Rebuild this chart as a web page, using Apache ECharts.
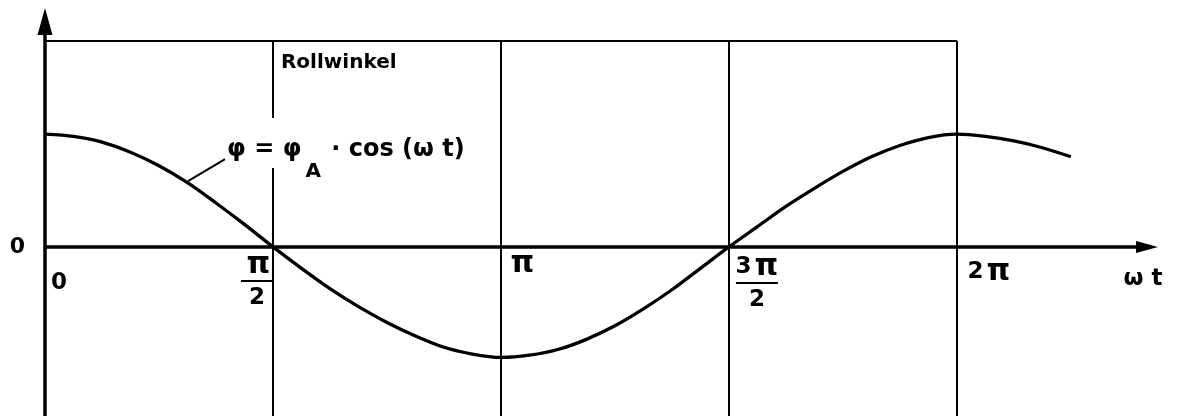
<!DOCTYPE html>
<html>
<head>
<meta charset="utf-8">
<script src="https://cdn.jsdelivr.net/npm/echarts@6/dist/echarts.min.js"></script>
<style>
  html, body { margin: 0; padding: 0; background: #fff; }
  #chart { width: 1179px; height: 416px; }
</style>
</head>
<body>
<div id="chart"></div>
<script>
// x in multiples of π (step π/16), y in units of the amplitude φA
const curveX = [0, 0.0625, 0.125, 0.1875, 0.25, 0.3125, 0.375, 0.4375, 0.5,
    0.5625, 0.625, 0.6875, 0.75, 0.8125, 0.875, 0.9375, 1,
    1.0625, 1.125, 1.1875, 1.25, 1.3125, 1.375, 1.4375, 1.5,
    1.5625, 1.625, 1.6875, 1.75, 1.8125, 1.875, 1.9375, 2,
    2.0625, 2.125, 2.1875, 2.25];
const curveY = [1.0, 0.98, 0.93, 0.84, 0.72, 0.57, 0.39, 0.2, 0,
    -0.19, -0.37, -0.53, -0.67, -0.79, -0.89, -0.95, -0.98,
    -0.96, -0.91, -0.82, -0.7, -0.55, -0.38, -0.19, 0,
    0.18, 0.36, 0.52, 0.67, 0.8, 0.9, 0.97, 1.0,
    0.98, 0.94, 0.88, 0.8];

const tickValues = [0, 0.5, 1, 1.5, 2];
const tickLabels = ['0', 'π/2', 'π', '3π/2', '2π'];
const gridX = [0.5, 1, 1.5, 2];
const frameTop = 1.83;

const xMax = 2.417;
const yMin = -1.5;
const yMax = 2.0;

const FONT = 'DejaVu Sans';
const W = 'bold';

// where each tick label sits relative to its tick (px)
const tickPlace = [
    { offset: [14, 36] },
    { offset: [-16, 35] },
    { offset: [20, 17] },
    { offset: [28, 37] },
    { offset: [32, 25] }
];

// π drawn larger, like the drawing's lettering
function piText(s) {
    return s.split('').map(c => (c === 'π' ? '{p|π}' : '{t|' + c + '}')).join('');
}
function fmtLabel(s) {
    if (s.indexOf('/') > 0) {
        const [n, d] = s.split('/');
        return piText(n) + '\n{bar| }\n{d|' + d + '}';
    }
    return piText(s);
}

const richTick = {
    t: { fontFamily: FONT, fontWeight: W, fontSize: 23, color: '#000', lineHeight: 26 },
    p: { fontFamily: FONT, fontWeight: W, fontSize: 30, color: '#000', lineHeight: 26, padding: [0, 0, 0, 3] },
    bar: { width: 32, height: 2, lineHeight: 6, fontSize: 2, backgroundColor: '#000' },
    d: { fontFamily: FONT, fontWeight: W, fontSize: 23, color: '#000', lineHeight: 28 }
};

const tickData = tickValues.map((v, i) => ({
    value: [v, 0],
    label: {
        show: true,
        color: '#000',
        formatter: fmtLabel(tickLabels[i]),
        offset: tickPlace[i].offset,
        rich: Object.assign({}, richTick, i === 3 ? { bar: Object.assign({}, richTick.bar, { width: 42 }) } : {})
    }
}));
tickData.push({
    value: [xMax, 0],
    label: { show: true, color: '#000', formatter: '{t|ω t}', offset: [-4, 32], rich: richTick }
});

const gridLines = gridX.map(x => [{ coord: [x, frameTop] }, { coord: [x, yMin] }]);

const echart = echarts.init(document.getElementById('chart'));
const option = {
    animation: false,
    grid: { left: 45, right: 32, top: 21.5, bottom: 0 },
    xAxis: {
        type: 'value', min: 0, max: xMax,
        axisLine: { show: true, symbol: ['none', 'triangle'], symbolSize: [12, 22], lineStyle: { color: '#000', width: 3.5 } },
        axisTick: { show: false },
        axisLabel: { show: false },
        splitLine: { show: false }
    },
    yAxis: {
        type: 'value', min: yMin, max: yMax, interval: 0.5,
        axisLine: { show: true, symbol: ['none', 'triangle'], symbolSize: [15, 27], lineStyle: { color: '#000', width: 3.5 } },
        axisTick: { show: false },
        axisLabel: {
            margin: 20, color: '#000', fontFamily: FONT, fontWeight: W, fontSize: 22,
            formatter: v => (v === 0 ? '0' : '')
        },
        splitLine: { show: false }
    },
    series: [
        {
            name: 'phi',
            type: 'line',
            z: 2,
            smooth: 0.3,
            showSymbol: false,
            lineStyle: { color: '#000', width: 3.3 },
            data: curveX.map((x, i) => [x, curveY[i]]),
            markLine: {
                silent: true,
                symbol: 'none',
                label: { show: false },
                lineStyle: { color: '#000', width: 2, type: 'solid' },
                data: [
                    [{ coord: [0, frameTop] }, { coord: [2, frameTop] }],
                    ...gridLines,
                    [{ coord: [0.3136, 0.584] }, { coord: [0.395, 0.779] }]
                ]
            }
        },
        {
            name: 'ticks',
            type: 'scatter',
            z: 10,
            symbolSize: 0,
            silent: true,
            itemStyle: { opacity: 1 },
            label: { position: 'inside', align: 'center', verticalAlign: 'middle', color: '#000' },
            data: tickData
        },
        {
            name: 'notes',
            type: 'scatter',
            z: 10,
            symbolSize: 0,
            silent: true,
            itemStyle: { opacity: 1 },
            data: [
                {
                    value: [0.5, frameTop],
                    label: {
                        show: true, position: 'inside', align: 'left', verticalAlign: 'middle',
                        offset: [8, 22], formatter: 'Rollwinkel',
                        fontFamily: FONT, fontWeight: W, fontSize: 20, color: '#000'
                    }
                },
                {
                    value: [0.395, 0.779],
                    label: {
                        show: true, position: 'inside', align: 'left', verticalAlign: 'top',
                        offset: [0, -41],
                        formatter: '{t|φ = φ}{s|A}{t| · cos (ω t)}',
                        color: '#000',
                        backgroundColor: '#fff',
                        padding: [20, 2, 0, 2],
                        rich: {
                            t: { fontFamily: FONT, fontWeight: W, fontSize: 24, color: '#000', lineHeight: 30, verticalAlign: 'top' },
                            s: { fontFamily: FONT, fontWeight: W, fontSize: 20, color: '#000', lineHeight: 20, verticalAlign: 'top', padding: [24, 2, 0, 4] }
                        }
                    }
                }
            ]
        }
    ]
};
echart.setOption(option);
</script>
</body>
</html>
